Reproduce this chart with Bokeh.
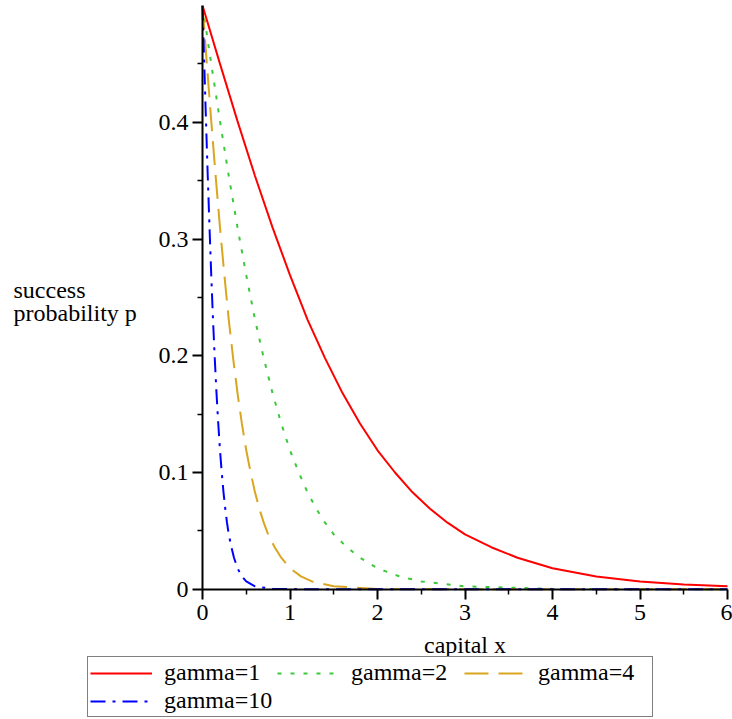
from bokeh.plotting import figure
from bokeh.models import Range1d, FixedTicker, Legend, LegendItem, Label
from bokeh.embed import file_html
from bokeh.resources import INLINE

# ---- data ----
x_g1 = [0, 0.2, 0.4, 0.6, 0.8, 1.0, 1.2, 1.4, 1.6, 1.8, 2.0, 2.2, 2.4, 2.6, 2.8,
        3.0, 3.3, 3.6, 4.0, 4.5, 5.0, 5.5, 6.0]
p_g1 = [0.5, 0.450, 0.401, 0.354, 0.310, 0.269, 0.231, 0.198, 0.168, 0.142, 0.119,
        0.100, 0.083, 0.069, 0.057, 0.047, 0.036, 0.027, 0.018, 0.011, 0.0067,
        0.0041, 0.0025]

x_g2 = [0, 0.1, 0.2, 0.3, 0.4, 0.5, 0.6, 0.7, 0.8, 0.9, 1.0, 1.1, 1.2, 1.3, 1.4,
        1.5, 1.65, 1.8, 2.0, 2.25, 2.5, 3.0, 4.0, 5.0, 6.0]
p_g2 = [0.5, 0.450, 0.401, 0.354, 0.310, 0.269, 0.231, 0.198, 0.168, 0.142, 0.119,
        0.100, 0.083, 0.069, 0.057, 0.047, 0.036, 0.027, 0.018, 0.011, 0.0067,
        0.0025, 0.0003, 0.0, 0.0]

x_g4 = [0, 0.05, 0.1, 0.15, 0.2, 0.25, 0.3, 0.35, 0.4, 0.45, 0.5, 0.55, 0.6, 0.65,
        0.7, 0.75, 0.825, 0.9, 1.0, 1.125, 1.25, 1.5, 2.0, 3.0, 6.0]
p_g4 = [0.5, 0.450, 0.401, 0.354, 0.310, 0.269, 0.231, 0.198, 0.168, 0.142, 0.119,
        0.100, 0.083, 0.069, 0.057, 0.047, 0.036, 0.027, 0.018, 0.011, 0.0067,
        0.0025, 0.0003, 0.0, 0.0]

x_g10 = [0, 0.02, 0.04, 0.06, 0.08, 0.1, 0.12, 0.14, 0.16, 0.18, 0.2, 0.22, 0.24,
         0.26, 0.28, 0.3, 0.33, 0.36, 0.4, 0.45, 0.5, 0.6, 0.8, 1.2, 6.0]
p_g10 = [0.5, 0.450, 0.401, 0.354, 0.310, 0.269, 0.231, 0.198, 0.168, 0.142, 0.119,
         0.100, 0.083, 0.069, 0.057, 0.047, 0.036, 0.027, 0.018, 0.011, 0.0067,
         0.0025, 0.0003, 0.0, 0.0]

series_labels = ["gamma=1", "gamma=2", "gamma=4", "gamma=10"]
x_ticks = [0, 1, 2, 3, 4, 5, 6]
x_minor = [0.5, 1.5, 2.5, 3.5, 4.5, 5.5]
y_ticks = [0, 0.1, 0.2, 0.3, 0.4]
y_tick_labels = ["0", "0.1", "0.2", "0.3", "0.4"]
y_minor = [0.05, 0.15, 0.25, 0.35, 0.45]
x_label = "capital x"
y_label_lines = ["success", "probability p"]

FONT = "Liberation Serif"
styles = [dict(line_color="#ff0000", line_width=2),
          dict(line_color="#3cc83c", line_width=2, line_dash="4 9"),
          dict(line_color="#daa520", line_width=2, line_dash="24 10"),
          dict(line_color="#0000ff", line_width=2, line_dash="15 7 3 7")]
series = [(x_g1, p_g1), (x_g2, p_g2), (x_g4, p_g4), (x_g10, p_g10)]

# The frame covers the whole page; the axes sit at x=0 / y=0 (Maple style),
# so the view extends to the left of and below the origin.
PX_X = 87.5      # pixels per x unit
PX_Y = 1167.5    # pixels per y unit
p = figure(width=732, height=719,
           x_range=Range1d(-202 / PX_X, 6 + 5 / PX_X),
           y_range=Range1d(0.5 - 714 / PX_Y, 0.5),
           min_border_left=0, min_border_right=0, min_border_top=5,
           min_border_bottom=0, output_backend="svg", toolbar_location=None)
p.outline_line_color = None
p.xgrid.visible = False
p.ygrid.visible = False
p.background_fill_color = "white"
p.border_fill_color = "white"

rends = [p.line(xs, ys, **st) for (xs, ys), st in zip(series, styles)]

for ax in (p.xaxis[0], p.yaxis[0]):
    ax.fixed_location = 0
    ax.axis_line_width = 2
    ax.axis_line_color = "black"
    ax.major_tick_line_width = 2
    ax.minor_tick_line_width = 1.5
    ax.major_tick_in = 0
    ax.major_tick_out = 10
    ax.minor_tick_in = 0
    ax.minor_tick_out = 5
    ax.major_label_text_font = FONT
    ax.major_label_text_font_size = "24px"
    ax.major_label_text_color = "black"
    ax.major_label_standoff = 4

p.xaxis[0].bounds = (x_ticks[0], x_ticks[-1])
p.yaxis[0].bounds = (0, 0.5)
p.xaxis[0].major_label_standoff = 6
p.xaxis[0].ticker = FixedTicker(ticks=x_ticks, minor_ticks=x_minor)
p.yaxis[0].ticker = FixedTicker(ticks=y_ticks, minor_ticks=y_minor)
p.yaxis[0].major_label_overrides = {t: s for t, s in zip(y_ticks, y_tick_labels)}

# axis titles (horizontal, as in the reference)
p.add_layout(Label(x=3, y=-0.048, text=x_label, text_align="center",
                   text_baseline="alphabetic", text_font=FONT,
                   text_font_size="24px", text_color="black"))
p.add_layout(Label(x=-2.16, y=0.2561, text=y_label_lines[0], text_align="left",
                   text_baseline="alphabetic", text_font=FONT,
                   text_font_size="24px", text_color="black"))
p.add_layout(Label(x=-2.16, y=0.2364, text=y_label_lines[1], text_align="left",
                   text_baseline="alphabetic", text_font=FONT,
                   text_font_size="24px", text_color="black"))

legend = Legend(items=[LegendItem(label=l, renderers=[r])
                       for l, r in zip(series_labels, rends)],
                orientation="horizontal", ncols=3, location=(87, 2))
legend.label_text_font = FONT
legend.label_text_font_size = "24px"
legend.label_text_color = "black"
legend.glyph_width = 62
legend.glyph_height = 20
legend.label_standoff = 12
legend.label_width = 112
legend.spacing = 1
legend.padding = 2
legend.margin = 0
legend.border_line_color = "black"
legend.border_line_width = 1.5
legend.background_fill_alpha = 1.0
p.add_layout(legend)

open("out.html", "w").write(file_html(p, INLINE))
